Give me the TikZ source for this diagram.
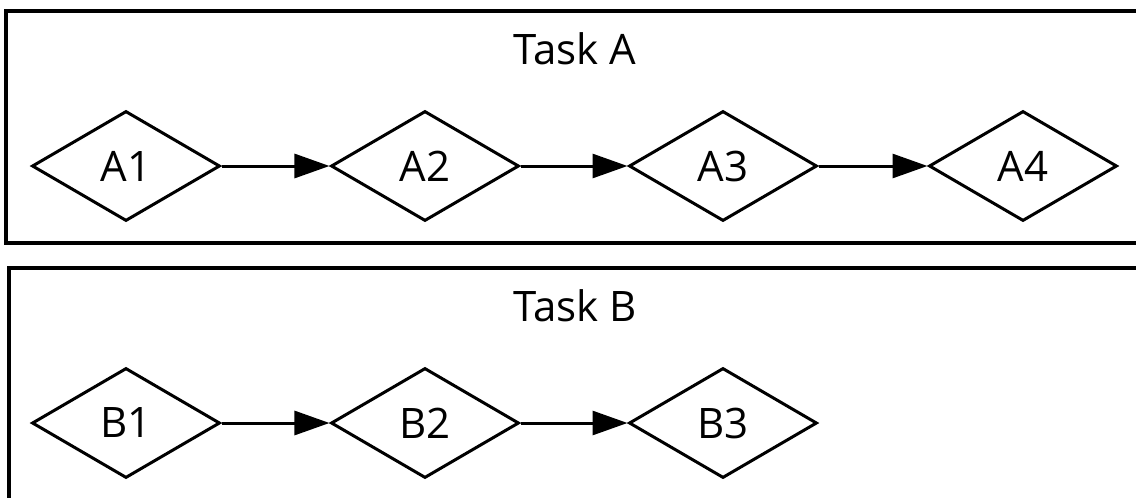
\documentclass[tikz,border=0pt]{standalone}
\usepackage{fontspec}
\setmainfont{Open Sans}
\usepackage{tikz}
\usetikzlibrary{shapes.geometric,arrows.meta}
\tikzset{>={Triangle[length=35pt,width=24pt]}}

\begin{document}
\begin{tikzpicture}[x=1pt, y=-1pt, font=\fontsize{42}{50}\selectfont]
  \newcommand{\diaw}{188pt}
  \newcommand{\diah}{110pt}
  \newcommand{\rowa}{166}
  \newcommand{\rowb}{423}
  \tikzset{taskstep/.style={diamond, draw, line width=3pt, %%
      minimum width=\diaw, minimum height=\diah, inner sep=0pt}}
  \tikzset{cluster/.style={draw, line width=3.5pt}}

  \clip (0,0) rectangle (1136,498);

  \draw[cluster] (6,11) rectangle (1160,243);
  \node[anchor=base] (taskA) at (575,64) {Task A};

  \node[taskstep] (A1) at (126,\rowa) {A1};
  \node[taskstep] (A2) at (425,\rowa) {A2};
  \node[taskstep] (A3) at (723,\rowa) {A3};
  \node[taskstep] (A4) at (1023,\rowa) {A4};

  \draw[->, line width=3pt] (A1) -- (A2);
  \draw[->, line width=3pt] (A2) -- (A3);
  \draw[->, line width=3pt] (A3) -- (A4);

  \draw[cluster] (9,268) rectangle (1160,520);
  \node[anchor=base] (taskB) at (575,321) {Task B};

  \node[taskstep] (B1) at (126,\rowb) {B1};
  \node[taskstep] (B2) at (425,\rowb) {B2};
  \node[taskstep] (B3) at (723,\rowb) {B3};

  \draw[->, line width=3pt] (B1) -- (B2);
  \draw[->, line width=3pt] (B2) -- (B3);
\end{tikzpicture}
\end{document}
